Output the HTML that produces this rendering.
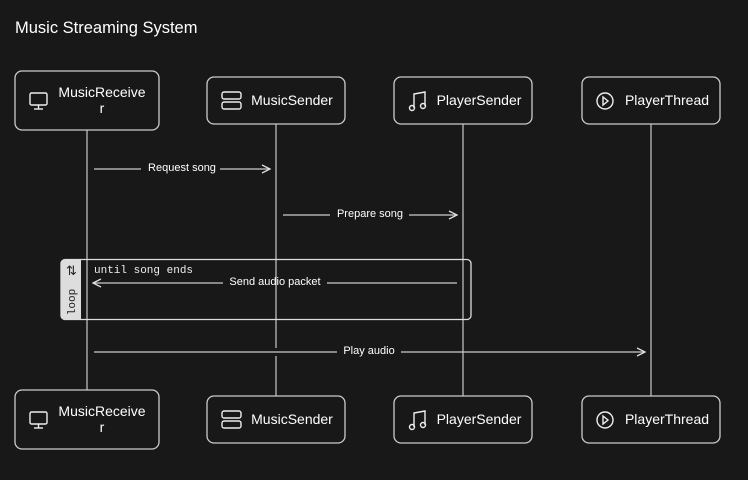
<!DOCTYPE html>
<html><head><meta charset="utf-8"><style>
body{margin:0;background:#181818;width:748px;height:475px;overflow:hidden;font-family:"Liberation Sans",sans-serif;}
</style></head><body>
<svg width="748" height="475" xmlns="http://www.w3.org/2000/svg" font-family="Liberation Sans, sans-serif">
<rect width="748" height="475" fill="#181818"/>
<text x="15" y="33" fill="#fff" font-size="16.5">Music Streaming System</text>
<defs><marker id="a" markerWidth="10" markerHeight="10" refX="9" refY="5" orient="auto" markerUnits="userSpaceOnUse"><path d="M1,1 L9,5 L1,9" fill="none" stroke="#ddd" stroke-width="1.3"/></marker></defs>
<g stroke="#bbb" stroke-width="1.3">
<line x1="87" y1="130" x2="87" y2="390"/>
<line x1="276" y1="124" x2="276" y2="348"/><line x1="276" y1="356" x2="276" y2="396"/>
<line x1="463" y1="124" x2="463" y2="396"/>
<line x1="651" y1="124" x2="651" y2="396"/>
</g>
<rect x="61" y="259.5" width="410" height="60" rx="4" fill="none" stroke="#ddd" stroke-width="1.3"/>
<path d="M81,260 L65,260 Q61,260 61,264 L61,315 Q61,319 65,319 L81,319 Z" fill="#ddd"/>
<text x="72" y="302" transform="rotate(-90 72 302)" font-family="Liberation Mono, monospace" font-size="11" fill="#222" text-anchor="middle" dominant-baseline="middle">loop</text>
<text x="66" y="275" font-size="13" fill="#222">⇅</text>
<text x="94" y="273" font-family="Liberation Mono, monospace" font-size="11" fill="#eee">until song ends</text>
<g stroke="#ccc" stroke-width="1.2" fill="none">
<line x1="94" y1="169" x2="141" y2="169"/><line x1="220" y1="169" x2="270" y2="169" marker-end="url(#a)"/>
<line x1="283" y1="215" x2="330" y2="215"/><line x1="409" y1="215" x2="457" y2="215" marker-end="url(#a)"/>
<line x1="457" y1="283" x2="327" y2="283"/><line x1="223" y1="283" x2="93" y2="283" marker-end="url(#a)"/>
<line x1="94" y1="352" x2="337" y2="352"/><line x1="401" y1="352" x2="645" y2="352" marker-end="url(#a)"/>
</g>
<g fill="#fff" font-size="11" text-anchor="middle">
<text x="182" y="171">Request song</text>
<text x="370" y="217">Prepare song</text>
<text x="275" y="285">Send audio packet</text>
<text x="369" y="354">Play audio</text>
</g>
<g fill="#181818" stroke="#ccc" stroke-width="1.3">
<rect x="15" y="71" width="144" height="59" rx="7"/>
<rect x="207" y="77" width="138" height="47" rx="7"/>
<rect x="394" y="77" width="138" height="47" rx="7"/>
<rect x="582" y="77" width="138" height="47" rx="7"/>
<rect x="15" y="390" width="144" height="59" rx="7"/>
<rect x="207" y="396" width="138" height="47" rx="7"/>
<rect x="394" y="396" width="138" height="47" rx="7"/>
<rect x="582" y="396" width="138" height="47" rx="7"/>
</g>
<g fill="#fff" font-size="14" text-anchor="middle">
<text x="102" y="97">MusicReceive</text><text x="102" y="113">r</text>
<text x="292" y="105">MusicSender</text>
<text x="479" y="105">PlayerSender</text>
<text x="667" y="105">PlayerThread</text>
<text x="102" y="416">MusicReceive</text><text x="102" y="432">r</text>
<text x="292" y="424">MusicSender</text>
<text x="479" y="424">PlayerSender</text>
<text x="667" y="424">PlayerThread</text>
</g>
<g fill="none" stroke="#eee" stroke-width="1.4">
<g id="mon"><rect x="30" y="93" width="17" height="12" rx="1.5"/><line x1="38.5" y1="105" x2="38.5" y2="109"/><line x1="34" y1="109" x2="43" y2="109"/></g>
<use href="#mon" y="319"/>
<g id="srv"><rect x="222" y="92" width="19" height="7" rx="2"/><rect x="222" y="102" width="19" height="7" rx="2"/></g>
<use href="#srv" y="319"/>
<g id="note"><path d="M414,108 V94 L425,92 V106"/><circle cx="412" cy="108" r="2.5"/><circle cx="423" cy="106" r="2.5"/></g>
<use href="#note" y="319"/>
<g id="play"><circle cx="605" cy="101" r="8"/><path d="M603,97 L608,101 L603,105 Z"/></g>
<use href="#play" y="319"/>
</g>
</svg>
</body></html>
